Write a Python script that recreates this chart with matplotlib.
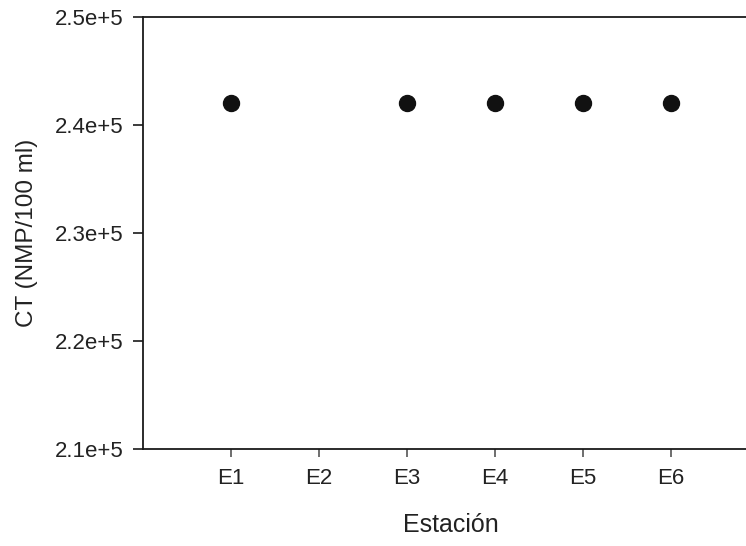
import numpy as np
import matplotlib
matplotlib.use("Agg")
import matplotlib.pyplot as plt

plt.rcParams['font.family'] = ['Liberation Sans', 'DejaVu Sans']

# Data (E2 has no value)
estaciones = ['E1', 'E2', 'E3', 'E4', 'E5', 'E6']
ct_values = [2.42e5, np.nan, 2.42e5, 2.42e5, 2.42e5, 2.42e5]
y_ticks = [2.1e5, 2.2e5, 2.3e5, 2.4e5, 2.5e5]
y_tick_labels = ['2.1e+5', '2.2e+5', '2.3e+5', '2.4e+5', '2.5e+5']

W, H = 746, 546
fig = plt.figure(figsize=(W / 100, H / 100), dpi=100)
# axes runs past the right edge of the picture like in the original
ax = fig.add_axes([143 / W, 97 / H, (759 - 143) / W, (449 - 17) / H])

x = np.arange(1, len(estaciones) + 1)
ax.plot(x, ct_values, linestyle='none', marker='o', markersize=11.5,
        color='#111111')

ax.set_xlim(0, 7)
ax.set_ylim(2.1e5, 2.5e5)
ax.set_xticks(x)
ax.set_xticklabels(estaciones)
ax.set_yticks(y_ticks)
ax.set_yticklabels(y_tick_labels)

for s in ax.spines.values():
    s.set_linewidth(1.3)
    s.set_color('#1a1a1a')

ax.tick_params(axis='y', direction='out', length=7, width=1.2, pad=7,
               labelsize=16, color='#1a1a1a', labelcolor='#222222')
ax.tick_params(axis='x', direction='out', length=6, width=1.2, pad=8,
               labelsize=16, color='#555555', labelcolor='#222222')

ax.set_xlabel('Estación', fontsize=18, labelpad=17, color='#222222')
ax.set_ylabel('CT (NMP/100 ml)', fontsize=17.5, labelpad=12, color='#222222')

fig.savefig('out.png', dpi=100)
